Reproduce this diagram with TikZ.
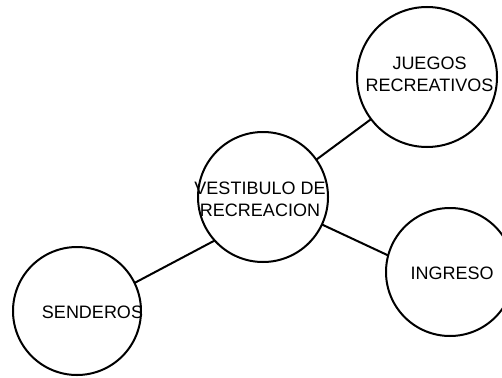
\documentclass[tikz,border=0pt]{standalone}
\usepackage{fontspec}
\setmainfont{Liberation Sans}
\begin{document}
\begin{tikzpicture}[x=1pt,y=-1pt,
  bubble/.style={circle,draw=black,line width=2pt,inner sep=0pt,outer sep=0pt,fill=white},
  txt/.style={font=\fontsize{18}{22}\selectfont,align=center,inner sep=0pt,text=black},
  link/.style={draw=black,line width=2pt}]
\useasboundingbox (0,0) rectangle (502,377);
\begin{scope}
\clip (0,0) rectangle (502,377);
\node[bubble,minimum size=130pt,label={[txt,xshift=-3pt,yshift=-2pt]center:VESTIBULO DE\\RECREACION}] (v) at (263,197) {};
\node[bubble,minimum size=140pt,label={[txt,xshift=2.5pt,yshift=2.5pt]center:JUEGOS\\RECREATIVOS}] (j) at (427,77) {};
\node[bubble,minimum size=128pt,label={[txt,xshift=2pt,yshift=-1pt]center:INGRESO}] (i) at (450,272) {};
\node[bubble,minimum size=128pt,label={[txt,xshift=15.5pt,yshift=-1pt]center:SENDEROS}] (s) at (77,311) {};
\draw[link] (v.35) -- (j.217);
\draw[link] (v.-25) -- (i.165);
\draw[link] (v.222) -- (s.26);
\end{scope}
\end{tikzpicture}
\end{document}
